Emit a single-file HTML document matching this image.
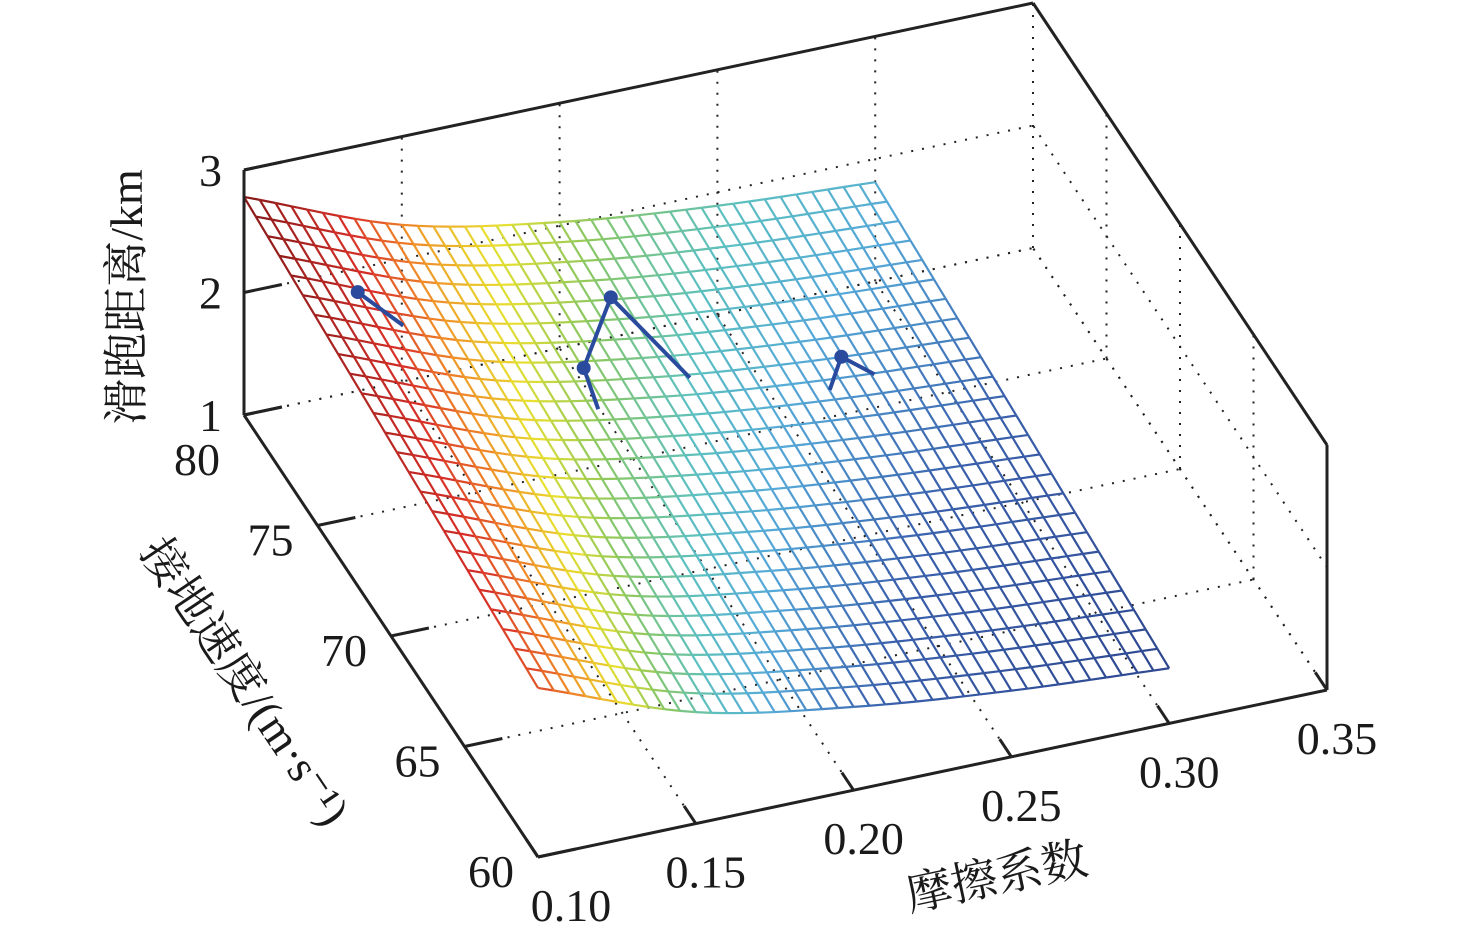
<!DOCTYPE html>
<html><head><meta charset="utf-8">
<style>
html,body{margin:0;padding:0;background:#fff;}
svg{display:block;}
text{font-family:"Liberation Serif","Noto Serif CJK SC",serif;fill:#1a1a1a;}
</style></head>
<body>
<svg id="chart" width="1476" height="943" viewBox="0 0 1476 943" xmlns="http://www.w3.org/2000/svg">
<g id="grid"></g>
<g id="mesh"></g>
<g id="markers"></g>
<g id="box"></g>
<g id="labels"></g>
<text x="0" y="0" font-size="46" text-anchor="middle" transform="translate(142,297) rotate(-90)">滑跑距离/km</text>
<text x="0" y="0" font-size="46" text-anchor="middle" transform="translate(232,690) rotate(56)">接地速度/(m·s⁻¹)</text>
<text x="0" y="0" font-size="46" text-anchor="middle" transform="translate(1000,892) rotate(-12)">摩擦系数</text>
</svg>
<script>
// data
const muTicks = [0.10, 0.15, 0.20, 0.25, 0.30, 0.35];
const vTicks = [60, 65, 70, 75, 80];
const zTicks = [1, 2, 3];
const gridMu = [0.10, 0.15, 0.20, 0.25, 0.30];
const gridV = [60, 65, 70, 75, 80];
const zRow60 = [2.38, 1.91, 1.68, 1.54, 1.45];
const zRow65 = [2.48, 2.00, 1.77, 1.63, 1.54];
const zRow70 = [2.58, 2.10, 1.86, 1.72, 1.63];
const zRow75 = [2.68, 2.19, 1.94, 1.80, 1.72];
const zRow80 = [2.78, 2.28, 2.03, 1.89, 1.81];
const pathA = [[0.1174, 76, 2.63], [0.1225, 74, 2.69]];
const pathB = [[0.1843, 74, 1.67], [0.189, 76, 1.62], [0.1976, 76, 2.15], [0.204, 72, 2.18]];
const pathC = [[0.239, 70, 2.25], [0.252, 72, 2.09], [0.2625, 72, 1.89]];
const markerPts = [[0.1174, 76, 2.63], [0.189, 76, 1.62], [0.1976, 76, 2.15], [0.252, 72, 2.09]];

const zRows = [zRow60, zRow65, zRow70, zRow75, zRow80];
const NS = 'http://www.w3.org/2000/svg';
function P(mu, v, z) {
  const a = (mu - 0.10) / 0.25, b = (v - 60) / 20, c = (z - 1) / 2;
  return [538 + a * 789 - b * 294, 857 - a * 167 - b * 442 - c * 245];
}
function mk(tag, attrs, parent) {
  const e = document.createElementNS(NS, tag);
  for (const k in attrs) e.setAttribute(k, attrs[k]);
  parent.appendChild(e); return e;
}
function cr(row, i, t) {
  const n = row.length;
  const p0 = row[Math.max(0, i - 1)], p1 = row[i], p2 = row[i + 1], p3 = row[Math.min(n - 1, i + 2)];
  const m1 = (p2 - p0) / (i === 0 ? 1 : 2), m2 = (p3 - p1) / (i + 2 > n - 1 ? 1 : 2);
  const t2 = t * t, t3 = t2 * t;
  return (2 * t3 - 3 * t2 + 1) * p1 + (t3 - 2 * t2 + t) * m1 + (-2 * t3 + 3 * t2) * p2 + (t3 - t2) * m2;
}
function surf(mu, v) {
  let i = Math.min(gridMu.length - 2, Math.max(0, Math.floor((mu - gridMu[0]) / (gridMu[1] - gridMu[0]) + 1e-9)));
  let j = Math.min(gridV.length - 2, Math.max(0, Math.floor((v - gridV[0]) / (gridV[1] - gridV[0]) + 1e-9)));
  const tx = (mu - gridMu[i]) / (gridMu[i + 1] - gridMu[i]);
  const ty = (v - gridV[j]) / (gridV[j + 1] - gridV[j]);
  const a = cr(zRows[j], i, tx), b = cr(zRows[j + 1], i, tx);
  return a * (1 - ty) + b * ty;
}
const cmapT = [0, 0.15, 0.25, 0.32, 0.41, 0.50, 0.62, 0.75, 1];
const cmapC = [[45,71,144],[58,96,172],[85,168,216],[92,192,192],[140,200,96],[232,224,48],[240,138,40],[216,48,40],[138,26,26]];
function cmap(t) {
  t = Math.max(0, Math.min(1, t));
  let k = 0; while (k < cmapT.length - 2 && t > cmapT[k + 1]) k++;
  const f = (t - cmapT[k]) / (cmapT[k + 1] - cmapT[k]);
  const c = cmapC[k].map((x, q) => Math.round(x + (cmapC[k + 1][q] - x) * f));
  return `rgb(${c[0]},${c[1]},${c[2]})`;
}
const gridG = document.getElementById('grid');
const dot = { stroke: '#222', 'stroke-width': 2, 'stroke-dasharray': '2 9', fill: 'none' };
function line(g, p, q, st) { return mk('line', Object.assign({ x1: p[0], y1: p[1], x2: q[0], y2: q[1] }, st), g); }
const mu0 = muTicks[0], mu1 = muTicks[muTicks.length - 1], v0 = vTicks[0], v1 = vTicks[vTicks.length - 1], z0 = zTicks[0], z1 = zTicks[zTicks.length - 1];
muTicks.forEach(m => { const e = line(gridG, P(m, v0, z0), P(m, v1, z0), dot);   });
vTicks.forEach(v => { const e = line(gridG, P(mu0, v, z0), P(mu1, v, z0), dot);   });
muTicks.forEach(m => { const e = line(gridG, P(m, v1, z0), P(m, v1, z1), dot);   });
zTicks.forEach(z => { const e = line(gridG, P(mu0, v1, z), P(mu1, v1, z), dot);   });
vTicks.forEach(v => { const e = line(gridG, P(mu1, v, z0), P(mu1, v, z1), dot);   });
zTicks.forEach(z => { const e = line(gridG, P(mu1, v0, z), P(mu1, v1, z), dot);   });

// mesh
const meshG = document.getElementById('mesh');
const NM = 40, NV = 25;
let zmin = Infinity, zmax = -Infinity;
zRows.forEach(r => r.forEach(z => { zmin = Math.min(zmin, z); zmax = Math.max(zmax, z); }));
const muA = gridMu[0], muB = gridMu[gridMu.length - 1], vA = gridV[0], vB = gridV[gridV.length - 1];
for (let i = 0; i <= NM; i++) {
  for (let j = 0; j <= NV; j++) {
    const m = muA + (muB - muA) * i / NM, v = vA + (vB - vA) * j / NV, z = surf(m, v);
    const p = P(m, v, z);
    const col = cmap((z - zmin) / (zmax - zmin));
    if (i < NM) {
      const m2 = muA + (muB - muA) * (i + 1) / NM, q = P(m2, v, surf(m2, v));
      const e = mk('line', { x1: p[0], y1: p[1], x2: q[0], y2: q[1], stroke: col, 'stroke-width': 2.2 }, meshG);
       
    }
    if (j < NV) {
      const v2 = vA + (vB - vA) * (j + 1) / NV, q = P(m, v2, surf(m, v2));
      const e = mk('line', { x1: p[0], y1: p[1], x2: q[0], y2: q[1], stroke: col, 'stroke-width': 2.2 }, meshG);
       
    }
  }
}
// markers
const mkG = document.getElementById('markers');
[pathA, pathB, pathC].forEach(pth => {
  const pts = pth.map(d => P(d[0], d[1], d[2]).join(',')).join(' ');
  const e = mk('polyline', { points: pts, fill: 'none', stroke: '#2a4a9e', 'stroke-width': 4 }, mkG);
   
});
markerPts.forEach(d => {
  const p = P(d[0], d[1], d[2]);
  const e = mk('circle', { cx: p[0], cy: p[1], r: 7, fill: '#2a4a9e' }, mkG);
   
});
// box
const boxG = document.getElementById('box');
const solid = { stroke: '#222', 'stroke-width': 3, fill: 'none' };
const edges = [
  [[mu0, v1, z0], [mu0, v1, z1]], [[mu0, v1, z0], [mu0, v0, z0]], [[mu0, v0, z0], [mu1, v0, z0]],
  [[mu1, v0, z0], [mu1, v0, z1]], [[mu0, v1, z1], [mu1, v1, z1]], [[mu1, v1, z1], [mu1, v0, z1]]
];
edges.forEach(ed => { const e = line(boxG, P(...ed[0]), P(...ed[1]), solid);   });
const tk = { stroke: '#222', 'stroke-width': 3 };
zTicks.forEach(z => { const e = line(boxG, P(mu0, v1, z), P(mu0 + 0.012, v1, z), tk);   });
vTicks.forEach(v => { const e = line(boxG, P(mu0, v, z0), P(mu0 + 0.012, v, z0), tk);   });
muTicks.forEach(m => { const e = line(boxG, P(m, v0, z0), P(m, v0 + 0.8, z0), tk);   });
// labels
const lbG = document.getElementById('labels');
zTicks.forEach(z => { const p = P(mu0, v1, z); const t = mk('text', { x: p[0] - 22, y: p[1] + 16, 'font-size': 46, 'text-anchor': 'end' }, lbG); t.textContent = String(z);   });
vTicks.forEach((v, k) => { const p = P(mu0, v, z0); const extra = k === vTicks.length - 1 ? 30 : 0; const t = mk('text', { x: p[0] - 24, y: p[1] + 30 + extra, 'font-size': 46, 'text-anchor': 'end' }, lbG); t.textContent = String(v);   });
muTicks.forEach((m, k) => { const p = P(m, v0, z0); const dx = k === 0 ? 33 : 10; const t = mk('text', { x: p[0] + dx, y: p[1] + 64, 'font-size': 46, 'text-anchor': 'middle' }, lbG); t.textContent = m.toFixed(2);   });
</script>
</body></html>
